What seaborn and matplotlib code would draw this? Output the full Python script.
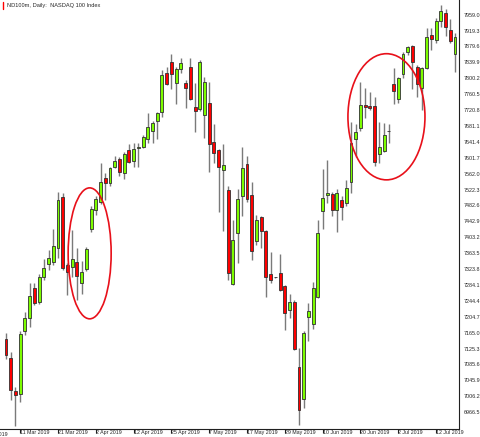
import numpy as np
import pandas as pd
import matplotlib
matplotlib.use("Agg")
import matplotlib.pyplot as plt
from matplotlib.patches import Ellipse
from matplotlib.lines import Line2D
import matplotlib.transforms as mtransforms
import seaborn as sns

# Daily bars of the ND100m CFD (Good Friday closed, US holidays traded)
dates = pd.bdate_range("2019-03-06", "2019-07-18").drop(pd.Timestamp("2019-04-19"))

opens = [7148, 7101, 7019, 7012, 7168, 7201, 7277, 7242, 7305, 7336,
         7342, 7376, 7503, 7334, 7330, 7342, 7290, 7323, 7423, 7470,
         7492, 7552, 7538, 7579, 7599, 7563, 7621, 7594, 7625, 7629,
         7648, 7669, 7694, 7717, 7814, 7840, 7788, 7823, 7788, 7828,
         7729, 7723, 7709, 7739, 7641, 7620, 7570, 7520, 7286, 7415,
         7505, 7585, 7509, 7394, 7453, 7420, 7311, 7303, 7315, 7282,
         7222, 7242, 7080, 6999, 7203, 7187, 7255, 7469, 7509, 7510,
         7471, 7495, 7488, 7540, 7648, 7675, 7733, 7731, 7732, 7611,
         7619, 7668.5, 7786, 7748, 7811, 7867, 7881, 7828, 7775, 7825,
         7907, 7896, 7942, 7964, 7921, 7862]
highs = [7163, 7116, 7030, 7168, 7217, 7290, 7288, 7311, 7348, 7371,
         7425, 7515, 7513, 7338, 7421, 7376, 7345, 7380, 7480, 7505,
         7589, 7563, 7579, 7606, 7604, 7617, 7635, 7639, 7638, 7659,
         7713, 7694, 7715, 7821, 7829, 7862, 7829, 7852, 7796, 7852,
         7789, 7846, 7804, 7792, 7686, 7623, 7636, 7530, 7446, 7524,
         7628, 7606, 7542, 7459, 7456, 7421, 7367, 7305, 7361, 7284,
         7262, 7247, 7126, 7168, 7238, 7292, 7446, 7573, 7596, 7515,
         7523, 7506, 7546, 7692, 7686, 7792, 7775, 7767, 7754, 7692,
         7689, 7686, 7825, 7803, 7867, 7881, 7883, 7833, 7829, 7925,
         7925, 7950, 7983, 7972, 7947, 7914]
lows = [7098, 6997, 6932, 6993, 7159, 7180, 7234, 7237, 7297, 7321,
        7334, 7351, 7321, 7259, 7305, 7247, 7262, 7320, 7417, 7459,
        7486, 7496, 7531, 7575, 7555, 7548, 7588, 7579, 7578, 7625,
        7639, 7639, 7648, 7704, 7783, 7773, 7736, 7813, 7725, 7746,
        7667, 7719, 7650, 7567, 7588, 7467, 7420, 7297, 7284, 7338,
        7456, 7492, 7346, 7384, 7376, 7255, 7288, 7301, 7270, 7172,
        7201, 7122, 6934, 6976, 7143, 7173, 7251, 7423, 7488, 7456,
        7417, 7446, 7481, 7513, 7604, 7669, 7700, 7721, 7582, 7589,
        7617, 7639, 7736, 7739, 7800, 7858, 7773, 7754, 7721, 7823,
        7872, 7889, 7927, 7906, 7887, 7817]
closes = [7109, 7022, 7009, 7161, 7201, 7257, 7240, 7303, 7326, 7351,
          7381, 7496, 7326, 7317, 7350, 7307, 7316, 7373, 7474, 7498,
          7542, 7538, 7577, 7594, 7567, 7610, 7590, 7624, 7628, 7654,
          7678, 7688, 7713, 7808, 7785, 7811, 7823, 7838, 7777, 7748,
          7719, 7840, 7792, 7636, 7613, 7578, 7583, 7315, 7396, 7499,
          7575, 7498, 7370, 7446, 7420, 7303, 7297, 7303, 7272, 7213,
          7242, 7123, 6972, 7165, 7219, 7276, 7415, 7500, 7513, 7471,
          7513, 7478, 7527, 7638, 7667, 7733, 7728, 7725, 7592, 7629,
          7659, 7668.5, 7769, 7800, 7862, 7877, 7842, 7786, 7825, 7904,
          7897, 7944, 7969, 7929, 7892, 7902]

# hand-drawn circles: (bar index of centre, price of centre, width in bars, height in points)
circles = [(17.7, 7363, 9.1, 327), (80.5, 7704, 16.3, 315)]

title = "ND100m, Daily:  NASDAQ 100 Index"
price_ticks = 6966.5 + 39.7 * np.arange(26)
label_every = 8
first_label = 3

df = pd.DataFrame({"date": dates, "open": opens, "high": highs,
                   "low": lows, "close": closes})
df["i"] = np.arange(len(df))
df["up"] = df["close"] >= df["open"]

sns.set_style("white")
plt.rcParams["font.family"] = ["Liberation Sans", "DejaVu Sans"]
fs_x = 3.8
fs_y = 3.9

fig = plt.figure(figsize=(4.81, 4.37), dpi=100)
ax = fig.add_axes([0, 8 / 437, 459 / 481, 429 / 437])

wick_col = "#7a7a7a"
edge_col = "#303030"
ax.vlines(df["i"], df["low"], df["high"], color=wick_col, lw=1.0, zorder=1)
ax.bar(df["i"], df["close"] - df["open"], bottom=df["open"], width=0.62,
       color=np.where(df["up"], "#7CFC00", "#FF0000"),
       edgecolor=edge_col, linewidth=0.6, zorder=2)

for cx, cy, w, h in circles:
    ax.add_patch(Ellipse((cx, cy), w, h, fill=False, edgecolor="#E8101A",
                         lw=1.2, zorder=3))

ax.set_xlim(-1.27, 95.85)
ax.set_ylim(6924.4, 7995.6)

# date labels every 8 bars, written to the right of the tick
pos = list(range(first_label, len(df), label_every))
labels = [f"{d.day} {d:%b %Y}" for d in df["date"].iloc[pos]]
ax.set_xticks(pos, labels)
for t in ax.get_xticklabels():
    t.set_horizontalalignment("left")
ax.tick_params(axis="x", bottom=True, direction="out", length=3, width=0.8,
               pad=-2.0, labelsize=fs_x, color="#202020")
# label that falls off the left edge
prev_date = pd.Timestamp("2019-02-27")
ax.text(first_label - label_every - 0.9, -0.006, f"{prev_date.day} {prev_date:%b %Y}",
        transform=mtransforms.blended_transform_factory(ax.transData, ax.transAxes),
        ha="left", va="top", fontsize=fs_x, clip_on=False)

ax.yaxis.tick_right()
ax.set_yticks(price_ticks, [f"{v:.1f}" for v in price_ticks])
ax.tick_params(axis="y", right=True, direction="out", length=2.5, width=0.8,
               pad=0.8, labelsize=fs_y, color="#202020")

sns.despine(ax=ax, left=True, top=True, right=False, bottom=False)
for s in ("right", "bottom"):
    ax.spines[s].set_color("#202020")
    ax.spines[s].set_linewidth(0.8)

fig.add_artist(Line2D([2.5 / 481, 2.5 / 481], [1 - 2 / 437, 1 - 9 / 437],
                      color="#FF0000", lw=1))
fig.text(7 / 481, 1 - 6 / 437, title, fontsize=4.1, va="center", ha="left")

fig.savefig("out.png", dpi=100)
